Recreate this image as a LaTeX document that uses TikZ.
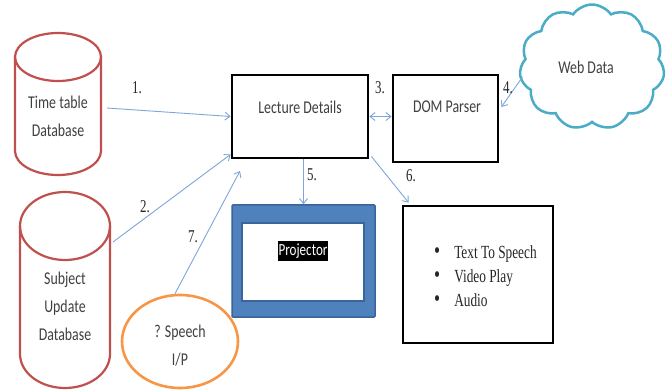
\documentclass[tikz,border=0pt]{standalone}
\usepackage{fontspec}
\setmainfont{Carlito}[FakeStretch=0.77]
\newfontfamily\tnr{Liberation Serif}[FakeStretch=0.72]
\usetikzlibrary{shapes.geometric,shapes.symbols,arrows.meta}
\definecolor{cylred}{HTML}{C0504D}
\definecolor{spor}{HTML}{F79646}
\definecolor{cloudblue}{HTML}{4BACC6}
\definecolor{arrowblue}{HTML}{7EA6D8}
\definecolor{projblue}{HTML}{4F81BD}
\definecolor{projedge}{HTML}{3A659A}
\newcommand\bigbul{{\fontsize{24}{24}\selectfont\textbullet}}
\begin{document}
\begin{tikzpicture}[x=1pt,y=1pt,
  lbl/.style={font=\fontsize{18}{28}\selectfont, text=black!75, align=center, inner sep=0pt},
  num/.style={font=\tnr\fontsize{18}{20}\selectfont, text=black!85, inner sep=0pt},
  conn/.style={draw=arrowblue, line width=0.9pt},
  >={Straight Barb[length=5pt,width=8pt]},
  cyl/.style={draw=cylred, line width=2.2pt},
  bbox/.style={draw=black, line width=2.8pt},
  hold/.style={inner sep=0pt, outer sep=0pt}]
\useasboundingbox (0,0) rectangle (669,-390);
\fill[white] (0,0) rectangle (669,-390);

% cylinder 1
\draw[cyl] (15,-57) -- (15,-151) arc[start angle=180,end angle=360,x radius=43,y radius=24] -- (101,-57);
\draw[cyl] (58,-57) ellipse[x radius=43,y radius=24];
\node[hold, minimum width=86, minimum height=142] (tt) at (58,-104) {};
\node[lbl] (ttl) at (58,-116) {Time table\\Database};

% cylinder 2
\draw[cyl] (20,-226) -- (20,-354) arc[start angle=180,end angle=360,x radius=45,y radius=34] -- (110,-226);
\draw[cyl] (65,-226) ellipse[x radius=45,y radius=34];
\node[hold, minimum width=90, minimum height=196] (cyl2) at (65,-290) {};
\node[lbl] (cyl2l) at (65,-306) {Subject\\Update\\Database};

% speech ellipse
\node[ellipse, draw=spor, line width=2.6pt, minimum width=116, minimum height=93, inner sep=0pt] (sp) at (180,-341.5) {};
\node[lbl] (spl) at (180,-346) {? Speech\\I/P};

% lecture details & DOM parser
\node[bbox, minimum width=136, minimum height=83] (ld) at (300,-116.5) {};
\node[lbl] (ldl) at (300,-107) {Lecture Details};
\node[bbox, minimum width=105, minimum height=87] (dom) at (445.5,-118.5) {};
\node[lbl] (doml) at (447,-107) {DOM Parser};

% cloud
\node[cloud, draw=cloudblue, line width=2.5pt, cloud puffs=11, cloud puff arc=110, aspect=1.15, minimum width=145, minimum height=125, inner sep=0pt] (web) at (592,-67) {};
\node[lbl] (webl) at (586,-67) {Web Data};

% projector
\node[draw=projedge, fill=projblue, line width=1.5pt, rounded corners=1pt, minimum width=143, minimum height=112] (proj) at (303.5,-261) {};
\node[draw=projedge, fill=white, line width=2pt, minimum width=122, minimum height=78] (projin) at (303,-262) {};
\node[fill=black, text=white, inner xsep=1pt, inner ysep=3pt, font=\fontsize{17}{18}\selectfont] (projt) at (303,-251) {Projector};

% bullet box
\node[bbox, minimum width=150, minimum height=137] (bl) at (478,-274.5) {};
\node[font=\tnr\fontsize{18.5}{24}\selectfont, text=black!85, align=left, anchor=west, inner sep=0pt] (blt) at (434,-276)
  {\bigbul\hspace{14pt}Text To Speech\\\bigbul\hspace{14pt}Video Play\\\bigbul\hspace{14pt}Audio};

% free end
\coordinate (a7) at (240,-171);

% connectors
\draw[conn,->] ([shift={(6,-4)}]tt.east) -- (ld.west);
\draw[conn,->] ([shift={(3,48)}]cyl2.east) -- ([yshift=5]ld.south west);
\draw[conn,->] ([xshift=-5]sp.north) -- (a7);
\draw[conn,<->] (ld.east) -- (ld.east -| dom.west);
\draw[conn,->] ([shift={(3,-10)}]web.west) -- ([shift={(2,11.5)}]dom.east);
\draw[conn,->] (ld.south -| proj.north) -- (proj.north);
\draw[conn,->] ([shift={(2,3)}]ld.south east) -- ([shift={(7,2)}]bl.north west);

% labels
\node[num] (n1) at (137,-88) {1.};
\node[num] (n2) at (145,-207) {2.};
\node[num] (n3) at (380,-88) {3.};
\node[num] (n4) at (508,-88) {4.};
\node[num] (n5) at (312,-175) {5.};
\node[num] (n6) at (411,-176) {6.};
\node[num] (n7) at (193,-237) {7.};
\end{tikzpicture}
\end{document}
